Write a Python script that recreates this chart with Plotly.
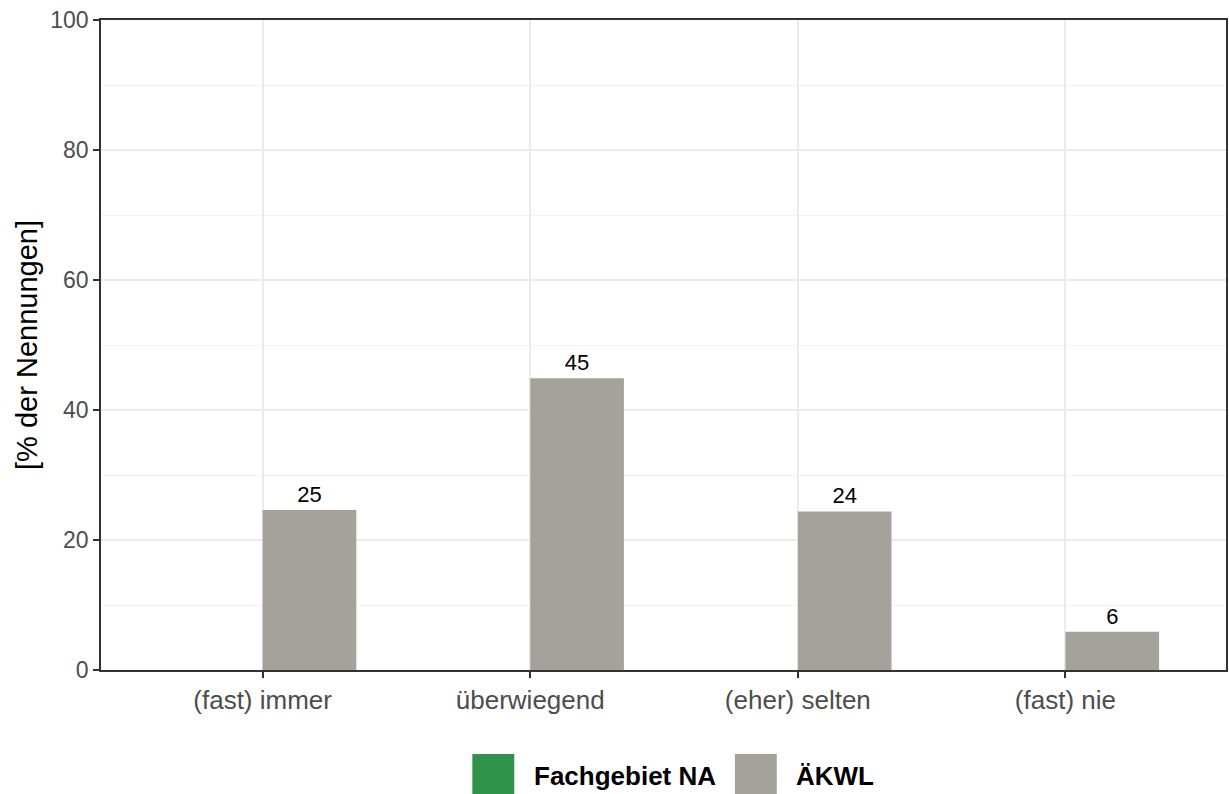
import plotly.graph_objects as go

categories = ["(fast) immer", "überwiegend", "(eher) selten", "(fast) nie"]
series_names = ["Fachgebiet NA", "ÄKWL"]
fach_values = [None, None, None, None]
aekwl_values = [24.6, 44.9, 24.4, 5.9]
y_ticks = [0, 20, 40, 60, 80, 100]

colors = {"Fachgebiet NA": "#31934A", "ÄKWL": "#A5A29B"}
FONT = "Liberation Sans, Arial, sans-serif"

W, H = 1229, 794
L, R, T, B = 101, 1, 20, 124
pw, ph = W - L - R, H - T - B

fig = go.Figure()
fig.add_trace(go.Bar(x=categories, y=fach_values, name=series_names[0],
                     marker=dict(color=colors[series_names[0]], line=dict(width=0)),
                     showlegend=False))
fig.add_trace(go.Bar(x=categories, y=aekwl_values, name=series_names[1],
                     marker=dict(color=colors[series_names[1]], line=dict(width=0)),
                     text=[f"{round(v):.0f}" if v is not None else "" for v in aekwl_values],
                     textposition="outside", cliponaxis=False, constraintext="none",
                     textfont=dict(family=FONT, size=22, color="#000000"),
                     showlegend=False))

def px_x(px):
    return (px - L) / pw

def px_y(py):
    return (H - B - py) / ph

# manual legend (large keys like ggplot)
shapes = []
annotations = []
legend_items = [(series_names[0], 473, 533), (series_names[1], 736, 795)]
for name, kx, tx in legend_items:
    shapes.append(dict(type="rect", xref="paper", yref="paper",
                       x0=px_x(kx), x1=px_x(kx + 42), y0=px_y(754), y1=px_y(796),
                       fillcolor=colors[name], line=dict(width=0)))
    annotations.append(dict(xref="paper", yref="paper", x=px_x(tx), y=px_y(776),
                            text=f"<b>{name}</b>", showarrow=False, xanchor="left",
                            yanchor="middle", font=dict(family=FONT, size=26, color="#000000")))

fig.update_layout(
    width=W, height=H,
    margin=dict(l=L, r=R, t=T, b=B),
    paper_bgcolor="white", plot_bgcolor="white",
    barmode="group", bargap=0.3, bargroupgap=0,
    showlegend=False,
    shapes=shapes, annotations=annotations,
    font=dict(family=FONT),
)
fig.update_xaxes(
    range=[-0.604, 3.6],
    showgrid=True, gridcolor="#EBEBEB", gridwidth=2,
    showline=True, linecolor="#333333", linewidth=1.5, mirror=True,
    ticks="outside", ticklen=6, tickcolor="#333333", tickwidth=1.5,
    tickfont=dict(family=FONT, size=26, color="#4D4D4D"),
    zeroline=False,
)
fig.update_yaxes(
    range=[0, 100], tickvals=y_ticks,
    showgrid=True, gridcolor="#EBEBEB", gridwidth=2,
    minor=dict(dtick=10, showgrid=True, gridcolor="#F2F2F2", gridwidth=1.2),
    showline=True, linecolor="#333333", linewidth=1.5, mirror=True,
    ticks="outside", ticklen=6, tickcolor="#333333", tickwidth=1.5,
    tickfont=dict(family=FONT, size=23, color="#4D4D4D"),
    title=dict(text="[% der Nennungen]", font=dict(family=FONT, size=29, color="#000000"), standoff=4),
    zeroline=False,
)

fig.write_html("out.html", config={"displayModeBar": False},
               post_script="document.body.style.margin='0';document.body.style.padding='0';")
